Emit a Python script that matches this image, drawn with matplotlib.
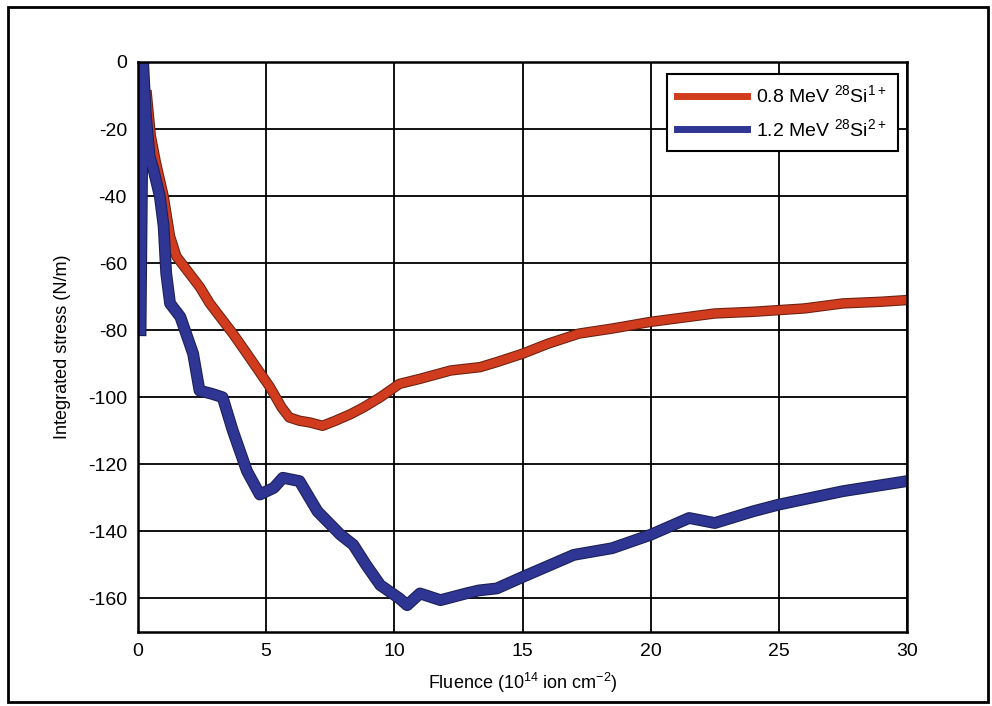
import matplotlib
matplotlib.use("Agg")
import matplotlib.pyplot as plt
import matplotlib.patheffects as pe
from matplotlib.patches import Rectangle

plt.rcParams['font.family'] = ['Liberation Sans', 'DejaVu Sans']
plt.rcParams['mathtext.default'] = 'regular'
plt.rcParams['axes.unicode_minus'] = False

# 0.8 MeV 28Si1+ (red)
x_red = [0.35, 0.5, 0.7, 1.0, 1.25, 1.5, 1.8, 2.0, 2.4, 2.8, 3.1, 3.5, 3.7,
         4.25, 4.7, 5.15, 5.6, 5.9, 6.3, 6.7, 7.2, 7.7, 8.3, 8.8, 9.45, 10.2,
         11.0, 12.2, 13.35, 14.0, 15.0, 16.0, 17.2, 18.5, 20.0, 21.0, 22.5,
         24.0, 25.0, 26.0, 27.5, 29.0, 30.0]
y_red = [-10, -22, -30, -40, -52, -58, -61, -63, -67, -72, -75, -79, -81,
         -87, -92, -97, -103, -106, -107, -107.5, -108.5, -107, -105, -103,
         -100, -96, -94.5, -92, -91, -89.5, -87, -84, -81, -79.5, -77.5,
         -76.5, -75, -74.5, -74, -73.5, -72, -71.5, -71]

# 1.2 MeV 28Si2+ (blue)
x_blue = [0.1, 0.15, 0.2, 0.3, 0.45, 0.6, 0.85, 1.0, 1.1, 1.25, 1.65, 2.15,
          2.4, 2.9, 3.3, 3.7, 4.25, 4.75, 5.3, 5.65, 6.3, 7.0, 7.9, 8.4, 8.9,
          9.45, 10.2, 10.5, 11.0, 11.8, 12.8, 13.3, 14.0, 15.0, 17.0, 18.5,
          20.0, 21.5, 22.5, 24.0, 25.0, 27.5, 30.0]
y_blue = [-80, -40, 0, -15, -28, -32, -40, -49, -63, -72, -76, -87,
          -98, -99, -100, -110, -122, -129, -127, -124, -125, -134, -141,
          -144, -150, -156, -160, -162, -158.5, -160.5, -158.5, -157.6, -157,
          -153.6, -147, -145, -141, -136, -137.5, -134, -132, -128, -125]

labels = ['0.8 MeV $^{28}$Si$^{1+}$', '1.2 MeV $^{28}$Si$^{2+}$']
xticks = [0, 5, 10, 15, 20, 25, 30]
yticks = [0, -20, -40, -60, -80, -100, -120, -140, -160]

fig = plt.figure(figsize=(9.92, 7.06), dpi=100)
ax = fig.add_axes([138 / 992, 1 - 632 / 706, 769 / 992, 570 / 706])

red = '#d23c1e'
blue = '#2e3592'
ax.plot(x_red, y_red, color=red, linewidth=6, label=labels[0],
        path_effects=[pe.Stroke(linewidth=7.5, foreground='#6a2010'), pe.Normal()])
ax.plot(x_blue, y_blue, color=blue, linewidth=7, label=labels[1],
        path_effects=[pe.Stroke(linewidth=8.5, foreground='#1a1f55'), pe.Normal()])

ax.set_xlim(0, 30)
ax.set_ylim(-170, 0)
ax.set_xticks(xticks)
ax.set_yticks(yticks)
ax.grid(True, color='black', linewidth=1.3)
ax.set_axisbelow(True)
ax.tick_params(length=0, labelsize=14, pad=8)
for s in ax.spines.values():
    s.set_linewidth(1.8)

ax.set_xlabel('Fluence (10$^{14}$ ion cm$^{-2}$)', fontsize=13, labelpad=8)
ax.set_ylabel('Integrated stress (N/m)', fontsize=13, labelpad=12)

leg = ax.legend(loc='upper right', bbox_to_anchor=(0.988, 0.979), fontsize=14,
                fancybox=False, framealpha=1, edgecolor='black',
                handlelength=3.6, borderpad=0.55, labelspacing=0.6,
                handletextpad=0.45, borderaxespad=0)
leg.get_frame().set_linewidth(1.5)
for h in leg.get_lines():
    h.set_path_effects([])
    h.set_linewidth(5)

# scanned outer frame
fig.patches.append(Rectangle((8 / 992, 1 - 702 / 706), 980 / 992, 695 / 706,
                             transform=fig.transFigure, fill=False,
                             edgecolor='black', linewidth=2))

fig.savefig('out.png', dpi=100)
